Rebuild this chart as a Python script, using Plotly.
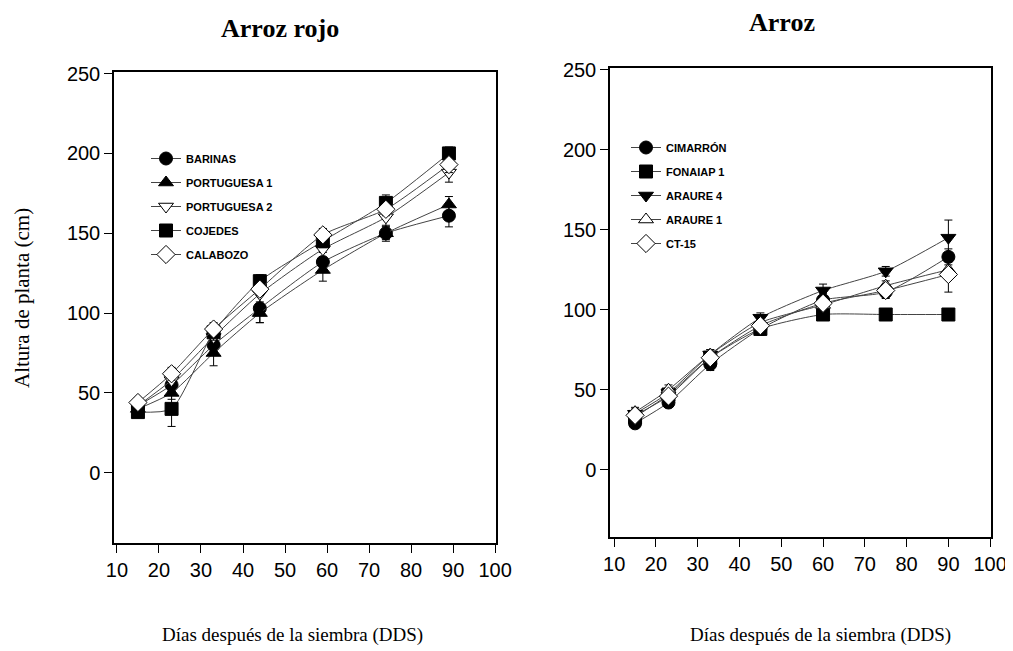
import plotly.graph_objects as go

# ---------------- data ----------------
days_left = [15, 23, 33, 44, 59, 74, 89]
days_right = [15, 23, 33, 45, 60, 75, 90]

left_names = ["BARINAS", "PORTUGUESA 1", "PORTUGUESA 2", "COJEDES", "CALABOZO"]
barinas = [42, 55, 80, 103, 132, 150, 161]
barinas_err = [3, 4, 5, 9, 6, 5, 7]
portuguesa1 = [40, 50, 75, 100, 127, 150, 168]
portuguesa1_err = [3, 4, 8, 6, 7, 4, 5]
portuguesa2 = [42, 58, 85, 112, 140, 160, 188]
portuguesa2_err = [3, 4, 5, 5, 5, 6, 6]
cojedes = [38, 40, 88, 120, 145, 169, 200]
cojedes_err = [3, 11, 5, 4, 4, 5, 4]
calabozo = [44, 62, 90, 115, 149, 165, 193]
calabozo_err = [3, 4, 4, 4, 4, 4, 5]

right_names = ["CIMARRÓN", "FONAIAP 1", "ARAURE 4", "ARAURE 1", "CT-15"]
cimarron = [29, 42, 66, 88, 106, 111, 133]
cimarron_err = [3, 3, 4, 4, 4, 4, 5]
fonaiap1 = [33, 47, 70, 88, 97, 97, 97]
fonaiap1_err = [2, 3, 3, 3, 3, 2, 2]
araure4 = [35, 48, 72, 95, 112, 124, 145]
araure4_err = [3, 3, 3, 3, 4, 3, 11]
araure1 = [36, 50, 72, 92, 103, 115, 125]
araure1_err = [3, 3, 3, 3, 3, 3, 5]
ct15 = [34, 46, 70, 90, 104, 112, 122]
ct15_err = [3, 3, 3, 3, 3, 3, 11]

x_ticks = [10, 20, 30, 40, 50, 60, 70, 80, 90, 100]
y_ticks = [0, 50, 100, 150, 200, 250]

# ---------------- styling ----------------
left_series = [
    (barinas, barinas_err, "circle", "black"),
    (portuguesa1, portuguesa1_err, "triangle-up", "black"),
    (portuguesa2, portuguesa2_err, "triangle-down", "white"),
    (cojedes, cojedes_err, "square", "black"),
    (calabozo, calabozo_err, "diamond", "white"),
]
right_series = [
    (cimarron, cimarron_err, "circle", "black"),
    (fonaiap1, fonaiap1_err, "square", "black"),
    (araure4, araure4_err, "triangle-down", "black"),
    (araure1, araure1_err, "triangle-up", "white"),
    (ct15, ct15_err, "diamond", "white"),
]

fig = go.Figure()

def add_series(names, series, xs, xa, ya, legend):
    for i, (name, (vals, err, sym, fill)) in enumerate(zip(names, series)):
        fig.add_trace(go.Scatter(
            x=xs, y=vals, name=name, mode="lines+markers",
            xaxis=xa, yaxis=ya, legend=legend, legendgroup=legend + str(i),
            line=dict(color="#444444", width=1, shape="spline", smoothing=0.6),
            marker=dict(symbol=sym, size=13 if sym != "diamond" else 14,
                        color=fill, line=dict(color="black", width=1)),
            error_y=dict(type="data", array=err, visible=True,
                         color="black", thickness=1, width=4),
        ))

add_series(left_names, left_series, days_left, "x", "y", "legend")
add_series(right_names, right_series, days_right, "x2", "y2", "legend2")

# page body adds an 8px margin; figure sized to the remaining viewport
OFF = 8
W, H = 1013 - OFF, 651 - OFF


def px(x):
    return (x - OFF) / W


def py(y):
    return 1 - (y - OFF) / H


tickfont = dict(family="Liberation Sans, Arial, sans-serif", size=20, color="black")
axis_common = dict(showline=True, mirror=True, linecolor="black", linewidth=1.5,
                   ticks="outside", ticklen=8, tickcolor="black", tickwidth=1,
                   showgrid=False, zeroline=False, tickfont=tickfont,
                   automargin=False)

legfont = dict(family="Liberation Sans Narrow, Arial Narrow, Liberation Sans, sans-serif",
               size=11, color="black", weight="bold")

fig.update_layout(
    template="none",
    width=W, height=H, autosize=False,
    margin=dict(l=0, r=0, t=0, b=0, pad=0, autoexpand=False),
    paper_bgcolor="white", plot_bgcolor="white",
    xaxis=dict(domain=[px(114), px(496)], range=[9.3, 100.2], tickvals=x_ticks,
               anchor="y", **axis_common),
    yaxis=dict(domain=[py(543), py(72)], range=[-44, 251], tickvals=y_ticks,
               anchor="x", **axis_common),
    xaxis2=dict(domain=[px(610), px(991)], range=[9.0, 100.2], tickvals=x_ticks,
                anchor="y2", **axis_common),
    yaxis2=dict(domain=[py(537), py(68)], range=[-42, 251], tickvals=y_ticks,
                anchor="x2", **axis_common),
    legend=dict(x=px(146), y=py(144), xanchor="left", yanchor="top",
                bgcolor="rgba(0,0,0,0)", font=legfont, tracegroupgap=5,
                itemwidth=30, borderwidth=0),
    legend2=dict(x=px(626), y=py(133), xanchor="left", yanchor="top",
                 bgcolor="rgba(0,0,0,0)", font=legfont, tracegroupgap=5,
                 itemwidth=30, borderwidth=0),
    showlegend=True,
)

serif = "Liberation Serif, Times New Roman, serif"
annotations = [
    dict(text="<b>Arroz rojo</b>", x=px(280), y=py(29), font=dict(family=serif, size=26)),
    dict(text="<b>Arroz</b>", x=px(782), y=py(23), font=dict(family=serif, size=26)),
    dict(text="Días después de la siembra (DDS)", x=px(292), y=py(635),
         font=dict(family=serif, size=19)),
    dict(text="Días después de la siembra (DDS)", x=px(820), y=py(635),
         font=dict(family=serif, size=19)),
    dict(text="Altura de planta (cm)", x=px(22), y=py(298), textangle=-90,
         font=dict(family=serif, size=21)),
]
for a in annotations:
    a.update(xref="paper", yref="paper", showarrow=False, xanchor="center", yanchor="middle")
    a["font"]["color"] = "black"
fig.update_layout(annotations=annotations)

fig.write_html("out.html")
